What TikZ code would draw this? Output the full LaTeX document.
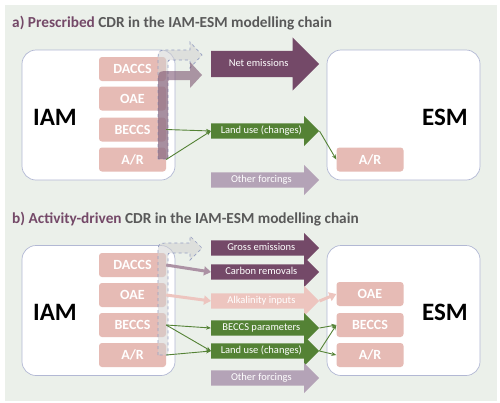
\documentclass[tikz,border=0pt]{standalone}
\usepackage{fontspec}
\setmainfont{Carlito}
\usetikzlibrary{shapes.arrows, arrows.meta, positioning}
\definecolor{panelbg}{RGB}{235, 240, 234}
\definecolor{plum}{RGB}{116, 73, 104}
\definecolor{titlegrey}{RGB}{89, 89, 89}
\definecolor{cdrpink}{RGB}{230, 187, 181}
\definecolor{alkpink}{RGB}{237, 197, 191}
\definecolor{landgreen}{RGB}{84, 130, 53}
\definecolor{otherlilac}{RGB}{180, 163, 183}
\definecolor{modeledge}{RGB}{178, 184, 212}
\definecolor{dashedge}{RGB}{150, 160, 195}

\begin{document}
\begin{tikzpicture}[x=1pt, y=-1pt,
    model/.style={rectangle, rounded corners=14pt, draw=modeledge, fill=white, line width=0.7pt, minimum width=153pt, minimum height=130pt},
    modelname/.style={font=\fontsize{25}{30}\selectfont\bfseries, text=black},
    cdr/.style={rectangle, rounded corners=3pt, fill=cdrpink, text=white, minimum width=67pt, minimum height=24pt, inner sep=0pt, font=\fontsize{14}{16}\selectfont\bfseries},
    flow/.style={single arrow, single arrow head extend=7.5pt, anchor=west, minimum height=108pt, inner xsep=2pt, inner ysep=2.5pt, text height=7.5pt, text depth=2.5pt, text=white, font=\fontsize{10.5}{12}\selectfont},
    bigflow/.style={flow, single arrow head extend=13.5pt, inner ysep=8pt},
    title/.style={anchor=base west, inner sep=0pt, font=\fontsize{15.3}{18}\selectfont\bfseries, text=titlegrey},
    feed/.style={-{Stealth[length=5pt, width=4pt]}, landgreen, line width=0.9pt},
    thickfeed/.style={-{Triangle[length=7pt, width=9pt]}, line width=3pt},
    ghost/.style={fill=gray!35, fill opacity=0.55, draw=dashedge, dashed, line width=0.7pt},
    bent/.style={fill=plum, fill opacity=0.55}
]
    \useasboundingbox (0,0) rectangle (500,402);
    \fill[panelbg] (5,5) rectangle (497,401);

    % a) prescribed CDR
    \node[title] (titleA) at (12,27) {\textcolor{plum}{a) Prescribed} CDR in the IAM-ESM modelling chain};

    \node[model] (iamA) at (98.5,115) {};
    \node[model] (esmA) at (403.5,115) {};
    \node[modelname] (iamnameA) at (55,117) {IAM};
    \node[modelname] (esmnameA) at (445,117) {ESM};

    \node[cdr] (daccsA) at (132.5,69) {DACCS};
    \node[cdr] (oaeA) at (132.5,98.5) {OAE};
    \node[cdr] (beccsA) at (132.5,129.5) {BECCS};
    \node[cdr] (arA) at (132.5,159.5) {A/R};
    \node[cdr] (esmarA) at (370,159.5) {A/R};

    \draw[ghost] (158,159) -- (158,62) .. controls (158,50) .. (170,50) -- (190,50) -- (190,42) -- (202,55) -- (190,68) -- (190,60) -- (172,60) .. controls (168,60) .. (168,64) -- (168,159) -- cycle;
    \fill[bent] (158,159) -- (158,83) .. controls (158,71) .. (170,71) -- (190,71) -- (190,62) -- (202,75) -- (190,88) -- (190,80) -- (172,80) .. controls (168,80) .. (168,84) -- (168,159) -- cycle;

    \node[bigflow, fill=plum] (netA) at (211,64) {Net emissions};
    \node[flow, fill=landgreen] (landA) at (211,131) {Land use (changes)};
    \node[flow, fill=otherlilac] (otherA) at (211,180) {Other forcings};

    \draw[feed] (beccsA.east) -- (landA.west);
    \draw[feed] (arA.east) -- (landA.west);
    \draw[feed] (landA.tip) -- (esmarA.west);

    % b) activity-driven CDR
    \node[title] (titleB) at (12,223) {\textcolor{plum}{b) Activity-driven} CDR in the IAM-ESM modelling chain};

    \node[model] (iamB) at (98.5,310.5) {};
    \node[model] (esmB) at (403.5,310.5) {};
    \node[modelname] (iamnameB) at (55,312) {IAM};
    \node[modelname] (esmnameB) at (445,312) {ESM};

    \node[cdr] (daccsB) at (132.5,265) {DACCS};
    \node[cdr] (oaeB) at (132.5,295) {OAE};
    \node[cdr] (beccsB) at (132.5,325) {BECCS};
    \node[cdr] (arB) at (132.5,355) {A/R};
    \node[cdr] (esmoaeB) at (370,294) {OAE};
    \node[cdr] (esmbeccsB) at (370,325) {BECCS};
    \node[cdr] (esmarB) at (370,355) {A/R};

    \draw[ghost] (158,355) -- (158,255) .. controls (158,243) .. (170,243) -- (190,243) -- (190,236) -- (202,248) -- (190,260) -- (190,253) -- (172,253) .. controls (168,253) .. (168,257) -- (168,355) -- cycle;

    \node[flow, fill=plum] (grossB) at (211,248) {Gross emissions};
    \node[flow, fill=plum] (carbB) at (211,272) {Carbon removals};
    \node[flow, fill=alkpink] (alkB) at (211,301) {Alkalinity inputs};
    \node[flow, fill=landgreen] (paramB) at (211,328) {BECCS parameters};
    \node[flow, fill=landgreen] (landB) at (211,351) {Land use (changes)};
    \node[flow, fill=otherlilac] (otherB) at (211,378) {Other forcings};

    \draw[thickfeed, plum!60] (daccsB.east) -- (carbB.west);
    \draw[thickfeed, alkpink] (oaeB.east) -- (alkB.west);
    \draw[thickfeed, alkpink] (alkB.tip) -- (esmoaeB.west);

    \draw[feed] (beccsB.east) -- (paramB.west);
    \draw[feed] (beccsB.east) -- (landB.west);
    \draw[feed] (arB.east) -- (landB.west);
    \draw[feed] (paramB.tip) -- (esmbeccsB.west);
    \draw[feed] (landB.tip) -- (esmbeccsB.west);
    \draw[feed] (landB.tip) -- (esmarB.west);
\end{tikzpicture}
\end{document}
